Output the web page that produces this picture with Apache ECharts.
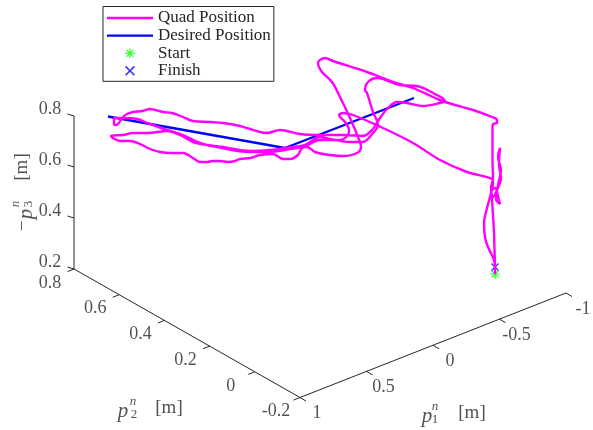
<!DOCTYPE html>
<html>
<head>
<meta charset="utf-8">
<style>html,body{margin:0;padding:0;background:#fff}#c{width:593px;height:430px}</style>
<script src="https://cdn.jsdelivr.net/npm/echarts@6/dist/echarts.min.js"></script>
</head>
<body>
<div id="c"></div>
<script>
// Values, in view-plane units of the 3-D projection.
const quadViewX = [495,495,494.5,494,493,492,491,495,499,500,496,498,501,498,500,499,501,497,493,491,493,492.5,492.5,492.5,493,497,497,492,473,445,433,413,393,367,333,325,320,318,322,332,340,350,358,361,357,343,330,315,307,302,298,290,283,273,260,250,240,235,228,220,213,207,200,193,183,172,160,150,140,130,120,111,123,133,148,167,180,193,207,223,250,270,285,305,320,330,350,363,373,378,373,367,365,368,377,400,417,433,445,440,423,407,397,388,380,372,363,345,320,300,280,267,250,240,223,210,193,183,172,163,150,142,133,127,123,118,116,114,114,123,137,150,167,183,200,217,250,270,285,305,320,340,348,349,345,339,343,353,383,413,440,467,492,493,490,486,484,485,488,494,495];
const quadViewY = [274,267,250,232,215,200,192,188,200,204,199,185,170,157,148,165,178,190,197,188,178,160,140,128,124,123,120,117,110,102,97,88,82,72,61,58,60,63,72,82,97,118,137,147,153,156,155,152,147,148,155,159,159,154,155,158,159,161,162,161,161,162,162,158,153,153,152,149,144,141,141,136,135,133,133,131,135,142,145,147,151,150,148,145,137,139,142,142,133,125,112,93,90,82,78,85,86,93,101,103,106,103,102,108,118,130,136,135,135,134,130,133,129,126,123,122,121,117,113,112,109,111,112,114,117,124,125,124,118,118,119,124,130,135,143,147,152,152,150,146,140,140,135,130,122,115,113,115,128,143,160,172,179,183,197,212,223,237,247,260,267];
const desiredViewX = [108,285,414];
const desiredViewY = [116.5,148,98];
const startPoint = [495,274];
const finishPoint = [495,267];

const p1Ticks = [1,0.5,0,-0.5,-1];
const p1TickLabels = ['1','0.5','0','-0.5','-1'];
const p2Ticks = [0.8,0.6,0.4,0.2,0,-0.2];
const p2TickLabels = ['0.8','0.6','0.4','0.2','0','-0.2'];
const p3Ticks = [0.8,0.6,0.4,0.2];
const p3TickLabels = ['0.8','0.6','0.4','0.2'];

// Linear projection of the 3-D box onto the picture
const ORIGIN = [300,397.5], U = [-133,52.25], V = [-226,-128.5], W = [0,-255];
const project = (p1,p2,p3) => [
  ORIGIN[0] + (p1-1)*U[0] + (p2+0.2)*V[0] + (p3-0.2)*W[0],
  ORIGIN[1] + (p1-1)*U[1] + (p2+0.2)*V[1] + (p3-0.2)*W[1]
];
const INK = '#262626';
const FONT = '"Liberation Serif", serif';
const zip = (a,b) => a.map((v,i)=>[v,b[i]]);

const p1Pos = v => project(v,-0.2,0.2);
const p2Pos = v => project(1,v,0.2);
const p3Pos = v => project(1,0.8,v);
const axisLines = [];
const addSeg = (a,b) => { axisLines.push(a,b,[null,null]); };
addSeg(p1Pos(1),p1Pos(-1));
addSeg(p2Pos(0.8),p2Pos(-0.2));
addSeg(p3Pos(0.8),p3Pos(0.2));
const tick = (pos,d) => addSeg(pos,[pos[0]+d[0],pos[1]+d[1]]);
p1Ticks.forEach(v=>tick(p1Pos(v),[6,3.5]));
p2Ticks.forEach(v=>tick(p2Pos(v),[-6.5,2.6]));
p3Ticks.forEach(v=>tick(p3Pos(v),[-6.5,-2]));

const tickLabelData = [];
const addLabels = (ticks,names,pos,off) => ticks.forEach((v,i)=>{
  const p = pos(v);
  tickLabelData.push({value:[p[0]+off[0],p[1]+off[1]],name:names[i]});
});
addLabels(p1Ticks,p1TickLabels,p1Pos,[17,16]);
addLabels(p2Ticks,p2TickLabels,p2Pos,[-24,14]);
addLabels(p3Ticks,p3TickLabels,p3Pos,[-24,-7]);

const spokes = (angles,h,w) => angles.map(a=>{
  const c=Math.cos(a),s=Math.sin(a);
  const P=(x,y)=>(50+x*c-y*s).toFixed(2)+' '+(50+x*s+y*c).toFixed(2);
  return 'M'+P(-h,-w)+'L'+P(h,-w)+'L'+P(h,w)+'L'+P(-h,w)+'Z';
}).join('');
const STAR = 'path://'+spokes([0,Math.PI/4,Math.PI/2,3*Math.PI/4],50,6);
const CROSS = 'path://'+spokes([Math.PI/4,3*Math.PI/4],62,8);
const DASH = 'path://M0 0H46V2.4H0Z';

// Stacked super/subscripts: each glyph group of an axis title is its own label
const piece = (pos,text,size,italic,rotate) => ({
  value:pos,
  label:{show:true,position:'inside',formatter:text,fontFamily:FONT,fontSize:size,
         fontStyle:italic?'italic':'normal',color:INK,rotate:rotate||0}
});
const titlePieces = [
  piece([123,411],'p',21,true), piece([133,402],'n',13,true), piece([134,415],'2',13,false), piece([169,408],'[m]',19,false),
  piece([427,416],'p',21,true), piece([435,407],'n',13,true), piece([435,420],'1',13,false), piece([472,413],'[m]',19,false),
  piece([23,226],'\u2212',19,false,90), piece([26,214],'p',21,true,90), piece([16,204],'n',13,true,90), piece([29,204],'3',13,false,90), piece([22,167],'[m]',19,false,90)
];

const chart = echarts.init(document.getElementById('c'),null,{renderer:'canvas'});
chart.setOption({
  animation:false,
  backgroundColor:'#fff',
  grid:{left:0,right:0,top:0,bottom:0},
  xAxis:{type:'value',min:0,max:593,show:false},
  yAxis:{type:'value',min:0,max:430,inverse:true,show:false},
  legend:{
    left:103,top:6.5,orient:'vertical',
    padding:[3,3,2,4],itemWidth:46,itemHeight:10,itemGap:0.6,
    borderColor:INK,borderWidth:1,backgroundColor:'#fff',
    textStyle:{fontFamily:FONT,fontSize:17,color:INK},
    selectedMode:false,
    data:[
      {name:'Quad Position',icon:DASH},
      {name:'Desired Position',icon:DASH},
      {name:'Start',icon:STAR},
      {name:'Finish',icon:CROSS}
    ]
  },
  series:[
    {name:'Quad Position',type:'line',z:3,data:zip(quadViewX,quadViewY),symbol:'none',smooth:0.35,
     lineStyle:{color:'#ff00ff',width:2.4},itemStyle:{color:'#ff00ff'}},
    {name:'Desired Position',type:'line',z:2,data:zip(desiredViewX,desiredViewY),symbol:'none',
     lineStyle:{color:'#0000ff',width:2.4},itemStyle:{color:'#0000ff'}},
    {name:'Start',type:'scatter',z:2,data:[startPoint],symbol:STAR,symbolSize:10,
     itemStyle:{color:'#00ff00',borderWidth:0}},
    {name:'Finish',type:'scatter',z:2,data:[finishPoint],symbol:CROSS,symbolSize:8,
     itemStyle:{color:'#0000ff',borderWidth:0}},
    {type:'line',silent:true,z:1,data:axisLines,symbol:'none',connectNulls:false,
     lineStyle:{color:INK,width:1},itemStyle:{color:INK}},
    {type:'scatter',silent:true,symbolSize:0,z:1,data:tickLabelData,
     label:{show:true,position:'inside',formatter:d=>d.name,fontFamily:FONT,fontSize:18,color:INK}},
    {type:'scatter',silent:true,symbolSize:0,z:1,data:titlePieces}
  ]
});
</script>
</body>
</html>
